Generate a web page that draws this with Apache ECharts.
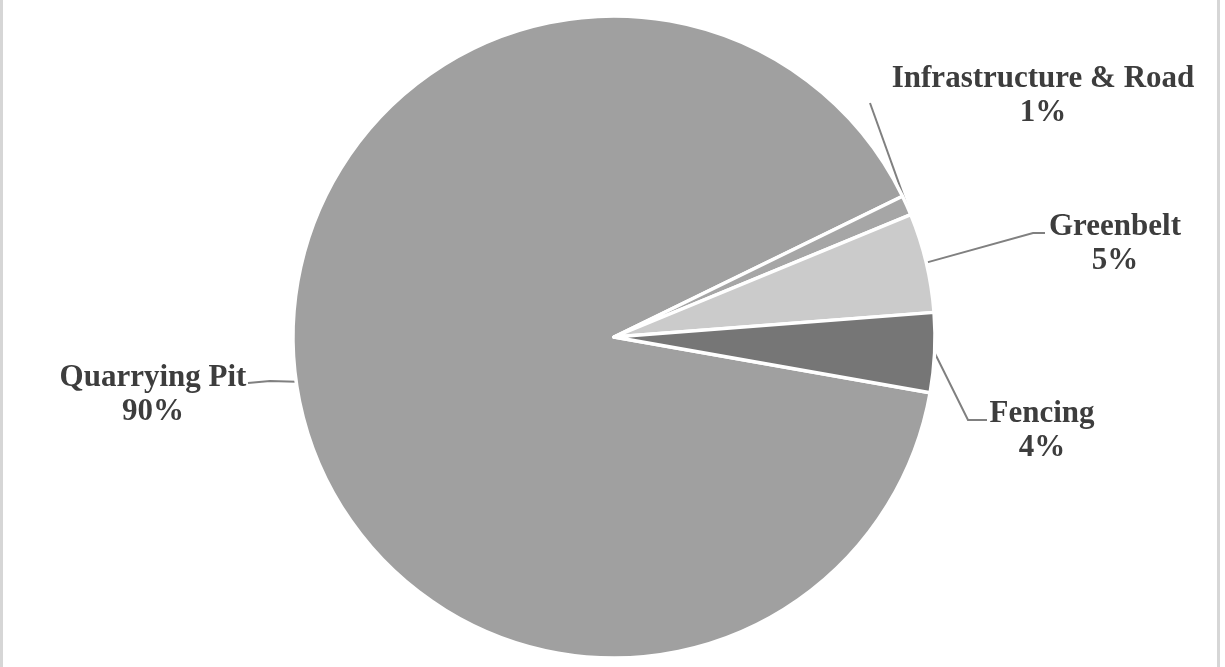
<!DOCTYPE html>
<html>
<head>
<meta charset="utf-8">
<script src="https://cdn.jsdelivr.net/npm/echarts@6/dist/echarts.min.js"></script>
<style>
  html, body { margin: 0; padding: 0; background: #ffffff; }
  #chart { width: 1225px; height: 667px; }
</style>
</head>
<body>
<div id="chart"></div>
<script>
// Land use shares of the lease area (percent)
const categories = ['Quarrying Pit', 'Infrastructure & Road', 'Greenbelt', 'Fencing'];
const shares = [90, 1, 5, 4];
const sliceColors = ['#a0a0a0', '#a6a6a6', '#cbcbcb', '#767676'];

// Where each label block sits and how its leader line bends
const labelSpots = {
  'Quarrying Pit':         { x: 153,  y: 395, bend: [[270, 381], [248, 383]] },
  'Infrastructure & Road': { x: 1043, y: 96,  bend: [[870, 103], [870, 103]] },
  'Greenbelt':             { x: 1115, y: 244, bend: [[1033, 233], [1045, 233]] },
  'Fencing':               { x: 1042, y: 431, bend: [[968, 420], [987, 420]] }
};

const chart = echarts.init(document.getElementById('chart'), null, { renderer: 'canvas' });

chart.setOption({
  backgroundColor: '#ffffff',
  animation: false,
  graphic: [{
    type: 'rect',
    shape: { x: 1.5, y: -10, width: 1217, height: 700 },
    style: { fill: 'none', stroke: '#d6d6d6', lineWidth: 3 },
    silent: true
  }],
  series: [{
    type: 'pie',
    center: [614, 337],
    radius: 321,
    startAngle: -10,
    clockwise: true,
    percentPrecision: 0,
    avoidLabelOverlap: false,
    data: categories.map((name, i) => ({
      name: name,
      value: shares[i],
      itemStyle: { color: sliceColors[i] }
    })),
    itemStyle: { borderColor: '#ffffff', borderWidth: 3.5 },
    label: {
      show: true,
      position: 'outside',
      formatter: '{b}\n{d}%',
      fontFamily: '"Liberation Serif", "Times New Roman", serif',
      fontWeight: 'bold',
      fontSize: 31,
      lineHeight: 34,
      color: '#3d3d3d',
      align: 'center'
    },
    labelLine: {
      show: true,
      length: 20,
      length2: 20,
      lineStyle: { color: '#808080', width: 2 }
    },
    labelLayout: function (params) {
      const spot = labelSpots[categories[params.dataIndex]];
      const start = params.labelLinePoints ? params.labelLinePoints[0] : spot.bend[0];
      return {
        x: spot.x,
        y: spot.y,
        align: 'center',
        verticalAlign: 'middle',
        labelLinePoints: [start, spot.bend[0], spot.bend[1]]
      };
    },
    emphasis: { disabled: true }
  }]
});
</script>
</body>
</html>
